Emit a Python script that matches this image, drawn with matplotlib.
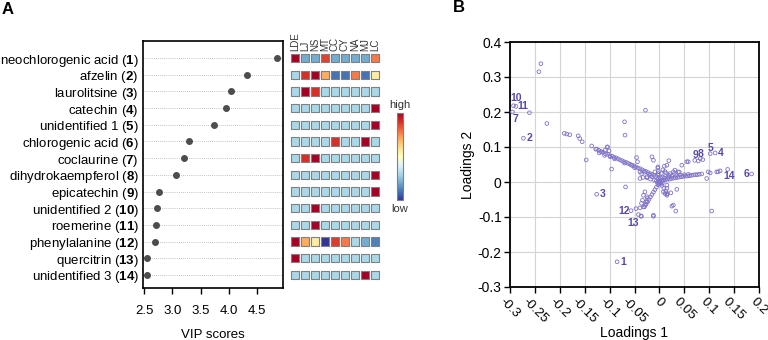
import matplotlib
matplotlib.use("Agg")
import matplotlib.pyplot as plt
import matplotlib.colors as mcolors
import matplotlib.cm as cm

plt.rcParams['font.family'] = 'Liberation Sans'
plt.rcParams['mathtext.fontset'] = 'custom'
plt.rcParams['mathtext.rm'] = 'Liberation Sans'
plt.rcParams['mathtext.bf'] = 'Liberation Sans:bold'
plt.rcParams['axes.unicode_minus'] = False

# ---- panel A data ----
compounds = ["neochlorogenic acid", "afzelin", "laurolitsine", "catechin",
             "unidentified 1", "chlorogenic acid", "coclaurine",
             "dihydrokaempferol", "epicatechin", "unidentified 2",
             "roemerine", "phenylalanine", "quercitrin", "unidentified 3"]
vip_scores = [4.85, 4.32, 4.03, 3.95, 3.74, 3.29, 3.20, 3.07, 2.77, 2.73,
              2.71, 2.69, 2.55, 2.55]
vip_ticks = [2.5, 3.0, 3.5, 4.0, 4.5]

heat_cols = ["LDE", "LJ", "NS", "MT", "CC", "CY", "NA", "MJ", "LC"]
heat_values = [
    [1.0, 0.2, 0.2, 0.87, 0.2, 0.2, 0.2, 0.2, 0.78],
    [0.3, 0.9, 1.0, 0.7, 0.1, 0.1, 0.78, 0.1, 0.56],
    [0.3, 1.0, 0.9, 0.3, 0.3, 0.3, 0.3, 0.3, 0.3],
    [0.3, 0.3, 0.3, 0.3, 0.3, 0.3, 0.3, 0.3, 1.0],
    [0.3, 0.3, 0.3, 0.3, 0.3, 0.3, 0.3, 0.3, 1.0],
    [0.3, 0.3, 0.3, 0.3, 0.9, 0.3, 0.3, 1.0, 0.3],
    [0.3, 0.9, 1.0, 0.3, 0.3, 0.3, 0.3, 0.3, 0.3],
    [0.3, 0.3, 0.3, 0.3, 0.3, 0.3, 0.3, 0.3, 1.0],
    [0.3, 0.3, 0.3, 0.3, 0.3, 0.3, 0.3, 0.3, 1.0],
    [0.3, 0.3, 1.0, 0.3, 0.3, 0.3, 0.3, 0.3, 0.3],
    [0.3, 0.3, 1.0, 0.3, 0.3, 0.3, 0.3, 0.3, 0.3],
    [1.0, 0.7, 0.56, 0.0, 0.88, 0.78, 0.3, 0.2, 0.12],
    [1.0, 0.3, 0.3, 0.3, 0.3, 0.3, 0.3, 0.3, 0.3],
    [0.3, 0.3, 0.3, 0.3, 0.3, 0.3, 0.3, 1.0, 0.3],
]

# ---- panel B data ----
loadings1 = [
    -0.261, -0.242, -0.238, -0.226, -0.191, -0.186, -0.180, -0.163, -0.160, -0.155,
    -0.147, -0.136, -0.104, -0.099, -0.096, -0.070, -0.069, -0.068, -0.028, -0.046,
    -0.044, -0.056, -0.039, -0.033, -0.015, -0.012, -0.003, -0.002,
    -0.126, -0.121, -0.116, -0.109, -0.105, -0.101,
    -0.128, -0.122, -0.118, -0.113, -0.108, -0.104, -0.099, -0.095, -0.091, -0.087,
    -0.083, -0.079, -0.075, -0.071, -0.067, -0.063, -0.059, -0.055, -0.051, -0.047,
    -0.043, -0.039, -0.035, -0.031, -0.027, -0.023, -0.019, -0.015, -0.011, -0.007,
    -0.110, -0.090, -0.070, -0.050, -0.030, -0.020,
    -0.029, -0.032, -0.024, -0.027, -0.029, -0.032, -0.039, -0.036, -0.047, -0.037,
    -0.012, -0.036, -0.034, -0.025,
    0.019, 0.045, 0.058, 0.071, 0.082, 0.055, 0.098, 0.102, 0.115, 0.122, 0.095,
    0.035, 0.023, 0.025, 0.028, 0.033, 0.105, -0.012, 0.118,
    -0.015, -0.025, -0.039, -0.036, 0.013, 0.021, 0.028, 0.038, 0.031, 0.018,
    0.015, 0.011, 0.015, -0.009, 0.015, -0.025, 0.015, 0.008, 0.015,
    0.008, 0.012, 0.016, 0.020, 0.024, 0.028, 0.032, 0.036, 0.040, 0.044,
    0.048, 0.052, 0.056, 0.060, 0.064, 0.068, 0.072, 0.076, 0.080, 0.085,
    0.010, 0.018, 0.026, 0.034, 0.042, 0.050, 0.058,
    0.010, 0.020, 0.030, 0.040,
    -0.003, -0.006, -0.009, -0.012, -0.015, -0.018, -0.021, -0.024, -0.027, -0.030,
    0.005, 0.009, 0.013, 0.016,
    -0.002, -0.003, -0.002, -0.003, 0.002, 0.004, 0.007, 0.010,
    0.006, 0.011,
    0.000, 0.002, -0.002, 0.004, -0.004, 0.001, -0.001, 0.003, -0.006, 0.006,
    -0.010, -0.018, -0.025,
]
loadings2 = [
    0.198, 0.315, 0.338, 0.167, 0.139, 0.137, 0.135, 0.132, 0.124, 0.115,
    0.063, 0.103, 0.100, 0.072, 0.037, 0.172, 0.134, -0.014, 0.205, 0.070,
    0.058, 0.048, 0.010, 0.013, 0.072, 0.062, 0.043, 0.024,
    0.094, 0.083, 0.086, 0.091, 0.100, 0.089,
    0.094, 0.091, 0.087, 0.085, 0.080, 0.079, 0.075, 0.074, 0.070, 0.069,
    0.066, 0.063, 0.061, 0.058, 0.056, 0.053, 0.051, 0.048, 0.046, 0.043,
    0.040, 0.038, 0.035, 0.032, 0.030, 0.027, 0.024, 0.022, 0.019, 0.016,
    0.076, 0.066, 0.054, 0.041, 0.028, 0.021,
    -0.028, -0.038, -0.047, -0.057, -0.066, -0.071, -0.074, -0.098, -0.076, -0.097,
    -0.095, -0.061, -0.052, -0.057,
    0.061, 0.048, 0.058, 0.062, 0.067, 0.058, 0.029, 0.026, 0.029, 0.032, 0.010,
    -0.021, -0.031, -0.069, -0.066, -0.083, -0.083, -0.098, 0.029,
    0.015, 0.015, 0.029, 0.024, 0.026, 0.024, 0.029, 0.029, 0.034, 0.020,
    -0.018, -0.033, 0.048, 0.029, -0.038, -0.042, -0.009, -0.028, -0.035,
    0.005, 0.006, 0.008, 0.008, 0.010, 0.011, 0.012, 0.013, 0.014, 0.015,
    0.016, 0.017, 0.017, 0.018, 0.019, 0.020, 0.021, 0.021, 0.022, 0.023,
    0.010, 0.013, 0.016, 0.018, 0.020, 0.021, 0.022,
    0.012, 0.018, 0.024, 0.028,
    -0.008, -0.015, -0.022, -0.029, -0.036, -0.043, -0.050, -0.057, -0.064, -0.071,
    -0.010, -0.018, -0.026, -0.033,
    0.010, 0.020, 0.030, 0.040, 0.012, 0.024, 0.035, 0.045,
    0.015, 0.030,
    0.000, -0.003, 0.002, 0.003, -0.002, 0.005, -0.005, -0.006, 0.004, -0.002,
    0.005, 0.008, 0.012,
]

# numbered compounds in the loadings plot
num_x = [-0.085, -0.273, -0.126, 0.112, 0.102, 0.185, -0.295, 0.087, 0.078,
         -0.293, -0.288, -0.057, -0.042, 0.137]
num_y = [-0.228, 0.125, -0.035, 0.083, 0.081, 0.023, 0.200, 0.064, 0.060,
         0.218, 0.216, -0.082, -0.093, 0.036]
# label offsets in pixels from the point
num_dx = [6, 6, 6, 6, 0, -5, 3, -2, -3, 3, 7, -7, -5, 1]
num_dy = [0, 0, 0, 0, 6, 0, -7, 6, 6, 8, 0, 0, -8, -7]

b_xticks = [-0.3, -0.25, -0.2, -0.15, -0.1, -0.05, 0, 0.05, 0.1, 0.15, 0.2]
b_xticklabels = ["-0.3", "-0.25", "-0.2", "-0.15", "-0.1", "-0.05", "0",
                 "0.05", "0.1", "0.15", "0.2"]
b_yticks = [-0.3, -0.2, -0.1, 0, 0.1, 0.2, 0.3, 0.4]
b_yticklabels = ["-0.3", "-0.2", "-0.1", "0", "0.1", "0.2", "0.3", "0.4"]

W, H = 768, 340
fig = plt.figure(figsize=(W / 100, H / 100), dpi=100)

def px_axes(x0, y0, x1, y1):
    return fig.add_axes([x0 / W, 1 - y1 / H, (x1 - x0) / W, (y1 - y0) / H])

# ---- Panel A: VIP dot plot ----
axA = px_axes(143, 41, 283, 288)
rows = list(range(len(compounds)))
for r in rows:
    axA.axhline(r, color='#b0b0b0', lw=0.6, ls=(0, (1, 1.5)), zorder=0)
axA.scatter(vip_scores, rows, s=16, color='#4d4d4d', zorder=3)
axA.set_ylim(13.78, -1.02)
axA.set_xlim(2.48, 4.96)
axA.set_xticks(vip_ticks)
axA.set_xticklabels([f"{v:.1f}" for v in vip_ticks], fontsize=9.5)
axA.set_yticks(rows)
axA.set_yticklabels([f"{c} ($\\mathbf{{{i + 1}}}$)" for i, c in enumerate(compounds)],
                    fontsize=9.5)
axA.tick_params(axis='y', length=0, pad=3)
axA.tick_params(axis='x', length=4, width=1, pad=8)
for s in axA.spines.values():
    s.set_linewidth(1.2)
axA.set_xlabel("VIP scores", fontsize=9.5, labelpad=9)

# heatmap squares
axH = px_axes(290, 41, 380, 288)
axH.set_xlim(-0.5, 8.5)
axH.set_ylim(13.78, -1.02)
axH.axis('off')
cmap = plt.get_cmap('RdYlBu_r')
hx, hy, hv = [], [], []
for r, rowvals in enumerate(heat_values):
    for c, v in enumerate(rowvals):
        hx.append(c)
        hy.append(r)
        hv.append(v)
axH.scatter(hx, hy, c=hv, cmap=cmap, vmin=0, vmax=1, marker='s', s=36,
            edgecolors='#808080', linewidths=0.8, clip_on=False)
for c, name in enumerate(heat_cols):
    axH.text(c, -0.45, name, rotation=90, ha='center', va='bottom',
             fontsize=7, color='#333333', clip_on=False)

# colourbar
axC = px_axes(397, 113, 403, 200)
cb = fig.colorbar(cm.ScalarMappable(norm=mcolors.Normalize(0, 1), cmap=cmap),
                  cax=axC)
cb.set_ticks([])
cb.outline.set_edgecolor('#808080')
cb.outline.set_linewidth(0.8)
fig.text(400 / W, 1 - 105 / H, "high", ha='center', va='center', fontsize=8, color='#333333')
fig.text(400 / W, 1 - 209 / H, "low", ha='center', va='center', fontsize=8, color='#333333')

# ---- Panel B: loadings ----
axB = px_axes(510, 42, 759, 287)
axB.set_xlim(-0.3, 0.2)
axB.set_ylim(-0.3, 0.4)
axB.set_xticks(b_xticks)
axB.set_xticklabels(b_xticklabels, rotation=-45, ha='center', va='top', fontsize=9.5)
axB.set_yticks(b_yticks)
axB.set_yticklabels(b_yticklabels, fontsize=10)
axB.grid(True, color='#d4d4d4', lw=0.8)
axB.set_axisbelow(True)
axB.tick_params(length=4, width=1, pad=2)
for s in axB.spines.values():
    s.set_linewidth(1.3)
pc = '#7f73c8'
axB.scatter(loadings1, loadings2, s=7, facecolors='none', edgecolors=pc,
            linewidths=0.6, zorder=3)
axB.scatter(num_x, num_y, s=7, facecolors='none', edgecolors=pc,
            linewidths=0.6, zorder=3)
for i in range(len(num_x)):
    axB.annotate(str(i + 1), (num_x[i], num_y[i]), xytext=(num_dx[i], num_dy[i]),
                 textcoords='offset pixels', ha='center', va='center',
                 fontsize=7.5, fontweight='bold', color='#5549ad')
axB.set_xlabel("Loadings 1", fontsize=10)
axB.xaxis.set_label_coords(0.5, -0.16)
axB.set_ylabel("Loadings 2", fontsize=10, labelpad=2)

fig.text(2 / W, 1 - 9 / H, "A", fontsize=12, fontweight='bold', va='center')
fig.text(453 / W, 1 - 8 / H, "B", fontsize=12, fontweight='bold', va='center')

fig.savefig("out.png", dpi=100)
